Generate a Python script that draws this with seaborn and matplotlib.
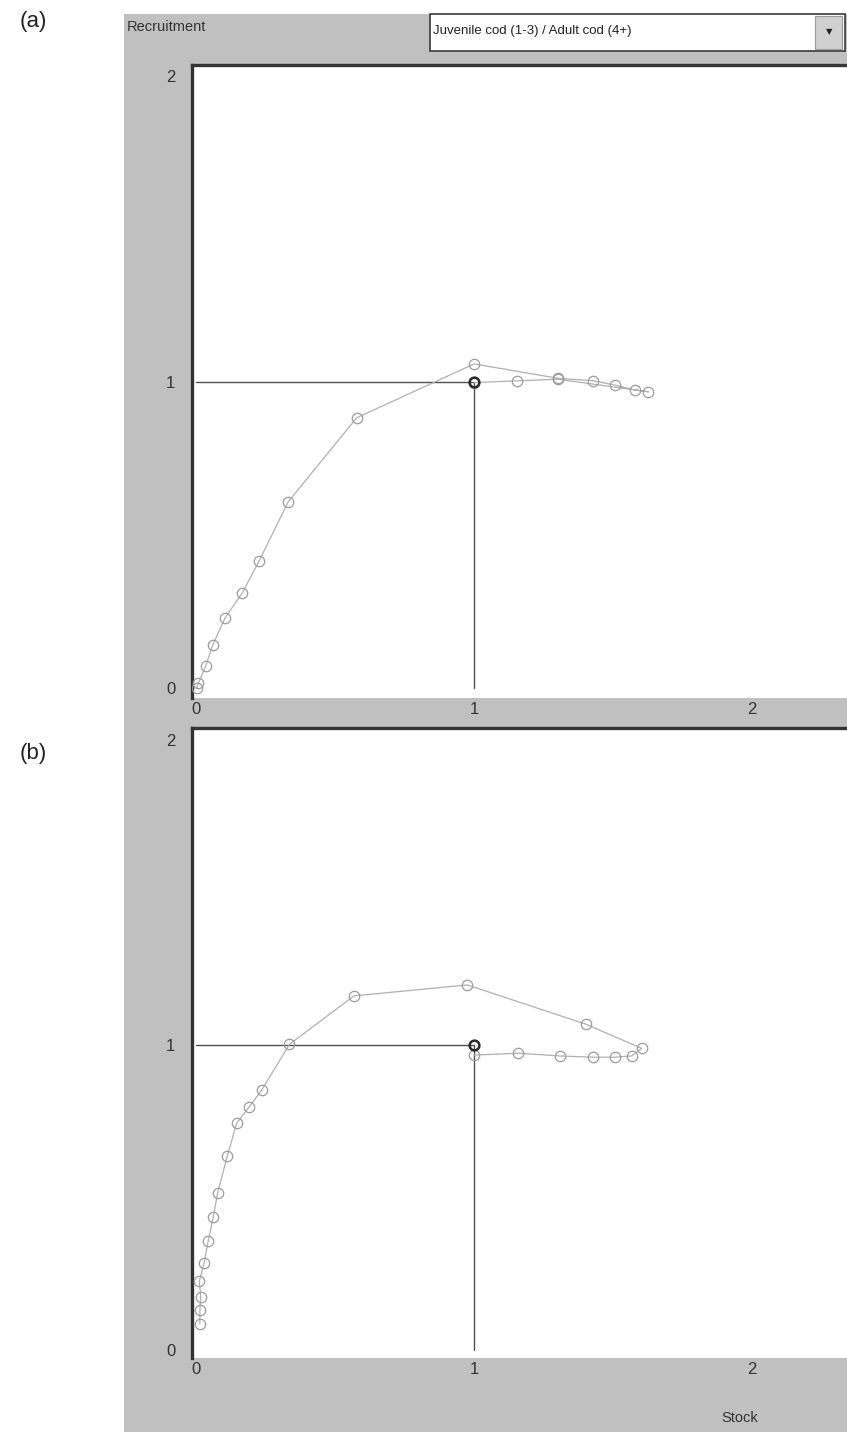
import matplotlib
matplotlib.use("Agg")
from matplotlib import pyplot as plt
from matplotlib.patches import Rectangle
import pandas as pd
import seaborn as sns

# panel (a): juvenile / adult cod trajectory
stock_a = [0.003, 0.008, 0.035, 0.06, 0.105, 0.166, 0.227, 0.332, 0.578, 1.0,
           1.303, 1.429, 1.507, 1.579, 1.627, 1.303, 1.156, 1.0]
recruit_a = [0.0, 0.015, 0.072, 0.14, 0.23, 0.31, 0.415, 0.609, 0.883, 1.059,
             1.012, 1.004, 0.99, 0.974, 0.968, 1.009, 1.004, 0.998]

# panel (b)
stock_b = [0.014, 0.014, 0.017, 0.012, 0.029, 0.044, 0.062, 0.078, 0.113, 0.146,
           0.192, 0.236, 0.336, 0.568, 0.976, 1.403, 1.603, 1.567, 1.507, 1.429,
           1.309, 1.16, 1.0]
recruit_b = [0.085, 0.13, 0.175, 0.226, 0.285, 0.358, 0.436, 0.516, 0.637, 0.743,
             0.798, 0.852, 1.002, 1.161, 1.197, 1.068, 0.989, 0.964, 0.96, 0.96,
             0.964, 0.973, 0.967]

eq_stock = 1.0
eq_recruit = 1.0
ticks = [0, 1, 2]

W, H = 847, 1432
sns.set_style("white")
plt.rcParams['font.family'] = ['Liberation Sans', 'DejaVu Sans']

fig = plt.figure(figsize=(W / 100, H / 100), dpi=100)
fig.patch.set_facecolor("white")


def fx(px):
    return px / W


def fy(py):
    return 1 - py / H


# grey window background (behind the axes)
fig.patches.append(Rectangle((fx(124), 0), 1 - fx(124), fy(14), transform=fig.transFigure,
                             facecolor="#c0c0c0", edgecolor="none", zorder=-5))
# dropdown box
fig.patches.append(Rectangle((fx(430), fy(51)), fx(845) - fx(430), fy(14) - fy(51),
                             transform=fig.transFigure, facecolor="white",
                             edgecolor="#3a3a3a", lw=1.2, zorder=1))
fig.patches.append(Rectangle((fx(815), fy(49)), fx(842) - fx(815), fy(16) - fy(49),
                             transform=fig.transFigure, facecolor="#d0d0d0",
                             edgecolor="#9a9a9a", lw=0.8, zorder=2))
fig.text(fx(829), fy(32), "\u25bc", fontsize=6, ha="center", va="center",
         color="#222222", family="DejaVu Sans", zorder=3)
fig.text(fx(433), fy(31), "Juvenile cod (1-3) / Adult cod (4+)", fontsize=9.5,
         ha="left", va="center", color="#222222", zorder=3)
fig.text(fx(127), fy(27), "Recruitment", fontsize=10.5, ha="left", va="center", color="#333333")
fig.text(fx(740), fy(1418), "Stock", fontsize=10.5, ha="center", va="center", color="#333333")
fig.text(fx(33), fy(22), "(a)", fontsize=16, ha="center", va="center", color="#222222")
fig.text(fx(33), fy(753), "(b)", fontsize=16, ha="center", va="center", color="#222222")

panels = [
    (stock_a, recruit_a, 65, 698, 688, 306),
    (stock_b, recruit_b, 728, 1358, 1350, 305),
]

for xs, ys, top, bottom, y0px, unit in panels:
    ax = fig.add_axes([fx(192), fy(bottom), 1 - fx(192), fy(top) - fy(bottom)])
    ax.set_zorder(1)
    ax.set_facecolor("white")
    df = pd.DataFrame({"Stock": xs, "Recruitment": ys})
    sns.lineplot(data=df, x="Stock", y="Recruitment", sort=False, estimator=None,
                 color="#b0b0b0", lw=0.9, marker="o", markersize=7.5,
                 markerfacecolor="none", markeredgecolor="#9c9c9c",
                 markeredgewidth=0.9, ax=ax, zorder=3)
    # equilibrium reference lines
    ax.plot([0, eq_stock], [eq_recruit, eq_recruit], color="#505050", lw=1.0, zorder=2)
    ax.plot([eq_stock, eq_stock], [0, eq_recruit], color="#505050", lw=1.0, zorder=2)
    ax.plot([eq_stock], [eq_recruit], marker="o", markersize=7, markerfacecolor="none",
            markeredgecolor="#2a2a2a", markeredgewidth=1.8, zorder=4)

    ax.set_xlim((192 - 196) / 278, (847 - 196) / 278)
    ax.set_ylim((y0px - bottom) / unit, (y0px - top) / unit)
    ax.set_xticks(ticks)
    ax.set_yticks(ticks)
    ax.set_xticklabels([str(t) for t in ticks])
    ax.set_yticklabels([str(t) for t in ticks])
    ax.tick_params(axis="both", length=0, labelsize=12, colors="#333333")
    ax.tick_params(axis="y", pad=12)
    ax.tick_params(axis="x", pad=3)
    ax.set_xlabel("")
    ax.set_ylabel("")
    for side in ["bottom", "right"]:
        ax.spines[side].set_visible(False)
    for side in ["left", "top"]:
        ax.spines[side].set_visible(True)
        ax.spines[side].set_color("#333333")
        ax.spines[side].set_linewidth(2.4)

fig.savefig("out.png", dpi=100)
